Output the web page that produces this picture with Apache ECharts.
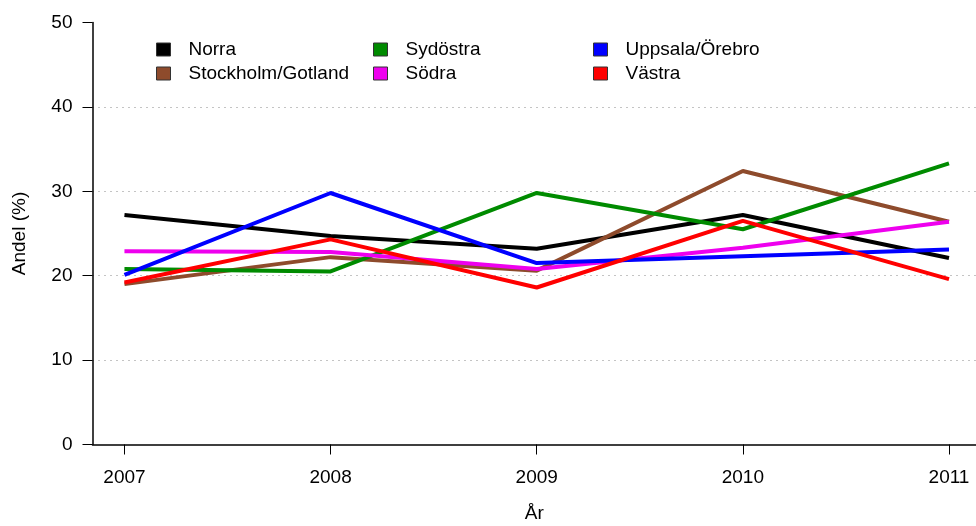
<!DOCTYPE html>
<html>
<head>
<meta charset="utf-8">
<script src="https://cdn.jsdelivr.net/npm/echarts@6/dist/echarts.min.js"></script>
<style>
  html, body { margin: 0; padding: 0; background: #fff; }
  #chart { width: 976px; height: 526px; }
</style>
</head>
<body>
<div id="chart"></div>
<script>
// år och andelar (%) per region
var years = [2007, 2008, 2009, 2010, 2011];
var yTicks = [0, 10, 20, 30, 40, 50];

var norra = [27.2, 24.7, 23.2, 27.2, 22.1];
var stockholmGotland = [19.0, 22.2, 20.6, 32.4, 26.4];
var sydostra = [20.8, 20.5, 29.8, 25.5, 33.3];
var sodra = [22.9, 22.8, 20.8, 23.3, 26.4];
var uppsalaOrebro = [20.1, 29.8, 21.5, 22.3, 23.1];
var vastra = [19.2, 24.3, 18.6, 26.5, 19.6];

var names = ['Norra', 'Stockholm/Gotland', 'Sydöstra', 'Södra', 'Uppsala/Örebro', 'Västra'];
var values = [norra, stockholmGotland, sydostra, sodra, uppsalaOrebro, vastra];
var colors = ['#000000', '#8e4b2c', '#008b00', '#ee00ee', '#0000ff', '#ff0000'];

var font = "'Liberation Sans', Arial, sans-serif";
var fsize = 19;

function pairs(arr) {
  return arr.map(function (v, i) { return [years[i], v]; });
}

function legendCol(left, data) {
  return {
    orient: 'vertical',
    left: left,
    top: 40,
    padding: 0,
    icon: 'rect',
    itemWidth: 14,
    itemHeight: 13,
    itemGap: 5,
    itemStyle: { borderColor: '#333', borderWidth: 1 },
    textStyle: { fontFamily: font, fontSize: fsize, color: '#000', lineHeight: 19, padding: [0, 0, 0, 13] },
    data: data
  };
}

var series = names.map(function (name, i) {
  return {
    name: name,
    type: 'line',
    symbol: 'none',
    color: colors[i],
    lineStyle: { width: 4, color: colors[i] },
    data: pairs(values[i])
  };
});

var option = {
  animation: false,
  backgroundColor: '#fff',
  legend: [
    legendCol(156, ['Norra', 'Stockholm/Gotland']),
    legendCol(373, ['Sydöstra', 'Södra']),
    legendCol(593, ['Uppsala/Örebro', 'Västra'])
  ],
  grid: { left: 92.5, right: 0, top: 22.5, bottom: 81.5, containLabel: false, outerBoundsMode: 'none' },
  xAxis: {
    type: 'value',
    min: 2006.845,
    max: 2011.131,
    name: 'År',
    nameLocation: 'middle',
    nameGap: 60,
    nameTextStyle: { fontFamily: font, fontSize: fsize, color: '#000' },
    axisLine: { onZero: true, lineStyle: { color: '#000', width: 1.5 } },
    axisTick: { show: true, length: 10, customValues: years, lineStyle: { color: '#000' } },
    axisLabel: { customValues: years, margin: 24, fontFamily: font, fontSize: fsize, color: '#000',
      formatter: function (v) { return String(v); } },
    splitLine: { show: false }
  },
  yAxis: {
    type: 'value',
    min: 0,
    max: 50,
    interval: 10,
    name: 'Andel (%)',
    nameLocation: 'middle',
    nameGap: 63,
    nameTextStyle: { fontFamily: font, fontSize: fsize, color: '#000' },
    axisLine: { show: true, lineStyle: { color: '#000', width: 1.5 } },
    axisTick: { show: true, length: 10, lineStyle: { color: '#000' } },
    axisLabel: { margin: 20, fontFamily: font, fontSize: fsize, color: '#000',
      formatter: function (v) { return yTicks.indexOf(v) >= 0 ? String(v) : ''; } },
    splitLine: {
      show: true,
      showMinLine: false,
      showMaxLine: false,
      lineStyle: { color: '#888', width: 1, type: [1, 5] }
    }
  },
  series: series
};

var myChart = echarts.init(document.getElementById('chart'));
myChart.setOption(option);
</script>
</body>
</html>
